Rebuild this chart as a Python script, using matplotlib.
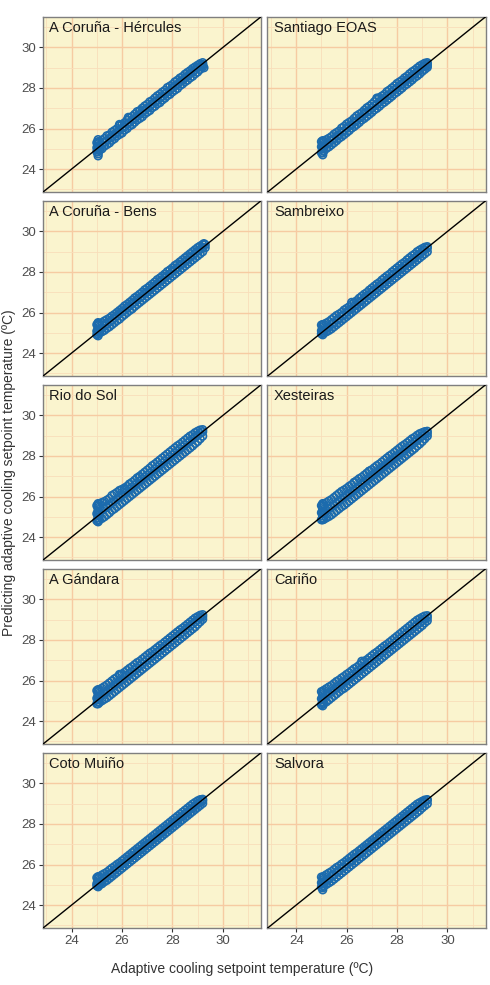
import matplotlib
matplotlib.use("Agg")
import matplotlib.pyplot as plt

plt.rcParams['font.family'] = ['Liberation Sans', 'DejaVu Sans']

stations = ["A Coruña - Hércules", "Santiago EOAS", "A Coruña - Bens", "Sambreixo",
            "Rio do Sol", "Xesteiras", "A Gándara", "Cariño", "Coto Muiño", "Salvora"]

ticks = [24, 26, 28, 30]
tick_labels = ["24", "26", "28", "30"]

# shared x positions of the band (adaptive setpoint, ºC)
band_x = [25.0, 25.1, 25.2, 25.3, 25.4, 25.5, 25.6, 25.7, 25.8, 25.9, 26.0, 26.1, 26.2, 26.3,
          26.4, 26.5, 26.6, 26.7, 26.8, 26.9, 27.0, 27.1, 27.2, 27.3, 27.4, 27.5, 27.6, 27.7,
          27.8, 27.9, 28.0, 28.1, 28.2, 28.3, 28.4, 28.5, 28.6, 28.7, 28.8, 28.9, 29.0, 29.1, 29.2]
stack_x = 25.05

upper = {
    "A Coruña - Hércules": [25.30, 25.35, 25.42, 25.50, 25.64, 25.68, 25.82, 25.90, 25.99, 26.13, 26.20, 26.28, 26.41, 26.52, 26.59, 26.70, 26.83, 26.88, 27.00, 27.11, 27.19, 27.32, 27.38, 27.50, 27.61, 27.69, 27.80, 27.88, 28.02, 28.09, 28.17, 28.30, 28.38, 28.49, 28.56, 28.68, 28.77, 28.85, 28.96, 29.04, 29.12, 29.20, 29.25],
    "Santiago EOAS": [25.35, 25.38, 25.45, 25.52, 25.60, 25.72, 25.80, 25.88, 26.02, 26.10, 26.22, 26.30, 26.38, 26.50, 26.62, 26.70, 26.78, 26.90, 27.02, 27.10, 27.20, 27.32, 27.45, 27.52, 27.60, 27.68, 27.82, 27.90, 28.00, 28.10, 28.22, 28.30, 28.38, 28.50, 28.58, 28.70, 28.80, 28.88, 28.98, 29.08, 29.15, 29.22, 29.25],
    "A Coruña - Bens": [25.40, 25.45, 25.50, 25.58, 25.65, 25.72, 25.82, 25.90, 26.00, 26.10, 26.20, 26.32, 26.40, 26.50, 26.60, 26.72, 26.80, 26.90, 27.00, 27.12, 27.20, 27.30, 27.40, 27.50, 27.62, 27.70, 27.80, 27.90, 28.02, 28.10, 28.20, 28.32, 28.40, 28.50, 28.60, 28.70, 28.80, 28.90, 29.00, 29.10, 29.20, 29.28, 29.35],
    "Sambreixo": [25.38, 25.42, 25.48, 25.55, 25.65, 25.75, 25.85, 25.92, 26.00, 26.12, 26.20, 26.28, 26.40, 26.50, 26.58, 26.70, 26.80, 26.90, 26.98, 27.10, 27.20, 27.30, 27.40, 27.48, 27.60, 27.70, 27.80, 27.88, 28.00, 28.10, 28.20, 28.30, 28.40, 28.48, 28.60, 28.70, 28.80, 28.88, 29.00, 29.08, 29.15, 29.22, 29.25],
    "Rio do Sol": [25.55, 25.62, 25.70, 25.75, 25.82, 25.90, 26.05, 26.12, 26.20, 26.30, 26.35, 26.42, 26.50, 26.62, 26.70, 26.80, 26.92, 27.00, 27.10, 27.20, 27.30, 27.40, 27.52, 27.60, 27.70, 27.80, 27.90, 28.00, 28.10, 28.20, 28.30, 28.40, 28.50, 28.58, 28.68, 28.78, 28.88, 28.98, 29.05, 29.15, 29.22, 29.28, 29.30],
    "Xesteiras": [25.55, 25.62, 25.70, 25.78, 25.85, 25.95, 26.05, 26.15, 26.25, 26.32, 26.40, 26.50, 26.58, 26.68, 26.78, 26.88, 26.95, 27.05, 27.15, 27.25, 27.32, 27.42, 27.52, 27.60, 27.70, 27.80, 27.90, 28.00, 28.08, 28.18, 28.28, 28.38, 28.48, 28.56, 28.65, 28.75, 28.85, 28.92, 29.02, 29.10, 29.15, 29.20, 29.22],
    "A Gándara": [25.50, 25.55, 25.62, 25.70, 25.78, 25.88, 25.98, 26.08, 26.15, 26.25, 26.32, 26.40, 26.50, 26.60, 26.68, 26.78, 26.88, 26.95, 27.05, 27.15, 27.25, 27.35, 27.42, 27.52, 27.62, 27.72, 27.80, 27.90, 28.00, 28.10, 28.20, 28.30, 28.40, 28.50, 28.58, 28.68, 28.78, 28.88, 28.98, 29.08, 29.15, 29.22, 29.25],
    "Cariño": [25.45, 25.52, 25.60, 25.68, 25.75, 25.85, 25.95, 26.02, 26.12, 26.20, 26.30, 26.38, 26.48, 26.58, 26.65, 26.75, 26.85, 26.95, 27.02, 27.12, 27.22, 27.32, 27.40, 27.50, 27.60, 27.70, 27.78, 27.88, 27.98, 28.08, 28.18, 28.28, 28.38, 28.48, 28.58, 28.68, 28.78, 28.88, 28.98, 29.05, 29.12, 29.18, 29.20],
    "Coto Muiño": [25.35, 25.40, 25.48, 25.55, 25.62, 25.72, 25.82, 25.90, 26.00, 26.08, 26.18, 26.28, 26.38, 26.48, 26.58, 26.68, 26.78, 26.88, 26.98, 27.08, 27.18, 27.28, 27.38, 27.48, 27.58, 27.68, 27.78, 27.88, 27.98, 28.08, 28.18, 28.28, 28.38, 28.48, 28.58, 28.68, 28.78, 28.88, 28.98, 29.06, 29.14, 29.20, 29.22],
    "Salvora": [25.38, 25.42, 25.50, 25.58, 25.65, 25.75, 25.85, 25.92, 26.02, 26.10, 26.20, 26.30, 26.40, 26.50, 26.58, 26.68, 26.78, 26.88, 26.98, 27.08, 27.18, 27.28, 27.38, 27.48, 27.58, 27.68, 27.78, 27.88, 27.98, 28.08, 28.18, 28.28, 28.38, 28.48, 28.58, 28.68, 28.78, 28.88, 28.98, 29.05, 29.12, 29.18, 29.20],
}

middle = {
    "A Coruña - Hércules": [25.05, 25.12, 25.18, 25.32, 25.40, 25.52, 25.58, 25.72, 25.80, 25.92, 26.02, 26.08, 26.22, 26.30, 26.42, 26.48, 26.62, 26.70, 26.78, 26.92, 27.00, 27.08, 27.22, 27.30, 27.38, 27.52, 27.58, 27.72, 27.80, 27.88, 28.02, 28.10, 28.18, 28.32, 28.38, 28.50, 28.58, 28.72, 28.78, 28.90, 29.00, 29.08, 29.15],
    "Santiago EOAS": [25.10, 25.08, 25.22, 25.28, 25.42, 25.48, 25.62, 25.68, 25.82, 25.88, 26.02, 26.12, 26.18, 26.32, 26.38, 26.52, 26.58, 26.72, 26.82, 26.88, 27.02, 27.12, 27.18, 27.32, 27.42, 27.48, 27.62, 27.68, 27.82, 27.92, 27.98, 28.12, 28.18, 28.32, 28.42, 28.48, 28.62, 28.68, 28.82, 28.88, 29.02, 29.10, 29.18],
    "A Coruña - Bens": [25.08, 25.15, 25.21, 25.35, 25.43, 25.55, 25.61, 25.75, 25.83, 25.95, 26.05, 26.11, 26.25, 26.33, 26.45, 26.51, 26.65, 26.73, 26.81, 26.95, 27.03, 27.11, 27.25, 27.33, 27.41, 27.55, 27.61, 27.75, 27.83, 27.91, 28.05, 28.13, 28.21, 28.35, 28.41, 28.53, 28.61, 28.75, 28.81, 28.93, 29.03, 29.11, 29.20],
    "Sambreixo": [25.10, 25.08, 25.22, 25.28, 25.42, 25.48, 25.62, 25.68, 25.82, 25.88, 26.02, 26.12, 26.18, 26.32, 26.38, 26.52, 26.58, 26.72, 26.82, 26.88, 27.02, 27.12, 27.18, 27.32, 27.42, 27.48, 27.62, 27.68, 27.82, 27.92, 27.98, 28.12, 28.18, 28.32, 28.42, 28.48, 28.62, 28.68, 28.82, 28.88, 29.02, 29.10, 29.18],
    "Rio do Sol": [25.15, 25.22, 25.32, 25.40, 25.48, 25.58, 25.70, 25.78, 25.88, 25.95, 26.08, 26.15, 26.25, 26.35, 26.45, 26.55, 26.65, 26.75, 26.85, 26.95, 27.05, 27.15, 27.25, 27.35, 27.45, 27.55, 27.65, 27.75, 27.85, 27.95, 28.05, 28.15, 28.25, 28.35, 28.45, 28.55, 28.65, 28.75, 28.82, 28.92, 29.02, 29.12, 29.20],
    "Xesteiras": [25.20, 25.25, 25.32, 25.40, 25.48, 25.58, 25.68, 25.78, 25.88, 25.95, 26.05, 26.15, 26.22, 26.32, 26.42, 26.52, 26.62, 26.72, 26.82, 26.92, 27.02, 27.10, 27.20, 27.30, 27.40, 27.50, 27.60, 27.70, 27.80, 27.90, 28.00, 28.08, 28.18, 28.28, 28.38, 28.48, 28.58, 28.68, 28.78, 28.88, 28.98, 29.05, 29.12],
    "A Gándara": [25.12, 25.20, 25.30, 25.38, 25.46, 25.56, 25.66, 25.76, 25.85, 25.95, 26.04, 26.14, 26.24, 26.34, 26.42, 26.52, 26.62, 26.72, 26.82, 26.92, 27.02, 27.12, 27.22, 27.30, 27.40, 27.50, 27.60, 27.70, 27.80, 27.90, 28.00, 28.10, 28.20, 28.30, 28.40, 28.50, 28.60, 28.70, 28.80, 28.90, 29.00, 29.10, 29.15],
    "Cariño": [25.10, 25.18, 25.28, 25.36, 25.45, 25.55, 25.65, 25.74, 25.84, 25.92, 26.02, 26.12, 26.22, 26.30, 26.40, 26.50, 26.60, 26.70, 26.78, 26.88, 26.98, 27.08, 27.18, 27.28, 27.38, 27.48, 27.58, 27.66, 27.76, 27.86, 27.96, 28.06, 28.16, 28.26, 28.36, 28.46, 28.56, 28.66, 28.76, 28.85, 28.95, 29.03, 29.10],
    "Coto Muiño": [25.05, 25.12, 25.18, 25.32, 25.40, 25.52, 25.58, 25.72, 25.80, 25.92, 26.02, 26.08, 26.22, 26.30, 26.42, 26.48, 26.62, 26.70, 26.78, 26.92, 27.00, 27.08, 27.22, 27.30, 27.38, 27.52, 27.58, 27.72, 27.80, 27.88, 28.02, 28.10, 28.18, 28.32, 28.38, 28.50, 28.58, 28.72, 28.78, 28.90, 29.00, 29.08, 29.15],
    "Salvora": [25.10, 25.08, 25.22, 25.28, 25.42, 25.48, 25.62, 25.68, 25.82, 25.88, 26.02, 26.12, 26.18, 26.32, 26.38, 26.52, 26.58, 26.72, 26.82, 26.88, 27.02, 27.12, 27.18, 27.32, 27.42, 27.48, 27.62, 27.68, 27.82, 27.92, 27.98, 28.12, 28.18, 28.32, 28.42, 28.48, 28.62, 28.68, 28.82, 28.88, 29.02, 29.10, 29.18],
}

lower = {
    "A Coruña - Hércules": [24.85, 24.92, 25.00, 25.13, 25.21, 25.29, 25.42, 25.50, 25.63, 25.71, 25.78, 25.92, 26.00, 26.13, 26.19, 26.31, 26.42, 26.50, 26.58, 26.72, 26.81, 26.89, 27.03, 27.10, 27.22, 27.28, 27.41, 27.50, 27.62, 27.69, 27.81, 27.90, 27.98, 28.12, 28.20, 28.31, 28.39, 28.50, 28.58, 28.70, 28.79, 28.92, 29.05],
    "Santiago EOAS": [24.80, 24.90, 25.02, 25.10, 25.20, 25.30, 25.40, 25.52, 25.60, 25.70, 25.80, 25.90, 26.02, 26.10, 26.20, 26.30, 26.42, 26.50, 26.60, 26.70, 26.80, 26.92, 27.00, 27.10, 27.22, 27.30, 27.40, 27.50, 27.60, 27.72, 27.80, 27.90, 28.00, 28.12, 28.20, 28.30, 28.40, 28.52, 28.60, 28.70, 28.82, 28.92, 29.02],
    "A Coruña - Bens": [24.90, 25.00, 25.05, 25.12, 25.22, 25.30, 25.40, 25.50, 25.60, 25.68, 25.80, 25.90, 26.00, 26.10, 26.18, 26.30, 26.40, 26.50, 26.60, 26.70, 26.80, 26.90, 27.00, 27.10, 27.20, 27.30, 27.40, 27.50, 27.60, 27.70, 27.80, 27.90, 28.00, 28.10, 28.20, 28.30, 28.40, 28.50, 28.60, 28.70, 28.80, 28.90, 29.00],
    "Sambreixo": [24.95, 25.00, 25.05, 25.12, 25.20, 25.30, 25.40, 25.50, 25.60, 25.70, 25.80, 25.90, 26.00, 26.10, 26.20, 26.30, 26.40, 26.50, 26.60, 26.70, 26.80, 26.90, 27.00, 27.10, 27.20, 27.30, 27.40, 27.50, 27.60, 27.70, 27.80, 27.90, 28.00, 28.10, 28.20, 28.30, 28.40, 28.50, 28.60, 28.70, 28.80, 28.90, 29.00],
    "Rio do Sol": [24.80, 24.85, 24.92, 25.00, 25.10, 25.20, 25.32, 25.40, 25.50, 25.60, 25.70, 25.80, 25.90, 26.00, 26.10, 26.20, 26.30, 26.40, 26.50, 26.60, 26.70, 26.80, 26.90, 27.00, 27.10, 27.20, 27.30, 27.40, 27.50, 27.60, 27.70, 27.80, 27.90, 28.00, 28.10, 28.20, 28.30, 28.40, 28.50, 28.62, 28.72, 28.85, 28.98],
    "Xesteiras": [24.85, 24.88, 24.95, 25.02, 25.10, 25.20, 25.30, 25.40, 25.50, 25.58, 25.68, 25.78, 25.88, 25.98, 26.08, 26.18, 26.28, 26.38, 26.48, 26.58, 26.68, 26.78, 26.88, 26.98, 27.08, 27.18, 27.28, 27.38, 27.48, 27.58, 27.68, 27.78, 27.88, 27.98, 28.08, 28.18, 28.28, 28.38, 28.50, 28.60, 28.72, 28.85, 28.98],
    "A Gándara": [24.85, 24.92, 25.00, 25.08, 25.15, 25.25, 25.35, 25.45, 25.55, 25.65, 25.75, 25.85, 25.95, 26.05, 26.15, 26.25, 26.35, 26.45, 26.55, 26.65, 26.75, 26.85, 26.95, 27.05, 27.15, 27.25, 27.35, 27.45, 27.55, 27.65, 27.75, 27.85, 27.95, 28.05, 28.15, 28.25, 28.35, 28.45, 28.55, 28.65, 28.78, 28.90, 29.02],
    "Cariño": [24.80, 24.88, 24.95, 25.05, 25.15, 25.25, 25.35, 25.45, 25.55, 25.62, 25.72, 25.82, 25.92, 26.02, 26.12, 26.22, 26.32, 26.42, 26.52, 26.62, 26.72, 26.82, 26.92, 27.02, 27.12, 27.22, 27.32, 27.42, 27.52, 27.62, 27.72, 27.82, 27.92, 28.02, 28.12, 28.22, 28.32, 28.42, 28.52, 28.62, 28.72, 28.85, 28.95],
    "Coto Muiño": [24.95, 25.00, 25.05, 25.15, 25.22, 25.32, 25.42, 25.52, 25.62, 25.72, 25.82, 25.92, 26.02, 26.12, 26.22, 26.32, 26.42, 26.52, 26.62, 26.72, 26.82, 26.92, 27.02, 27.12, 27.22, 27.32, 27.42, 27.52, 27.62, 27.72, 27.82, 27.92, 28.02, 28.12, 28.22, 28.32, 28.42, 28.52, 28.62, 28.72, 28.82, 28.92, 29.02],
    "Salvora": [24.88, 24.95, 25.02, 25.10, 25.18, 25.28, 25.38, 25.48, 25.58, 25.68, 25.78, 25.88, 25.98, 26.08, 26.18, 26.28, 26.38, 26.48, 26.58, 26.68, 26.78, 26.88, 26.98, 27.08, 27.18, 27.28, 27.38, 27.48, 27.58, 27.68, 27.78, 27.88, 27.98, 28.08, 28.18, 28.28, 28.38, 28.48, 28.58, 28.68, 28.80, 28.90, 29.00],
}

# vertical stack of points at the lower limit of the adaptive setpoint
stack_y = {
    "A Coruña - Hércules": [24.65, 24.75, 24.85, 24.95, 25.05, 25.15, 25.25, 25.35, 25.45],
    "Santiago EOAS": [24.70, 24.80, 24.90, 25.00, 25.10, 25.20, 25.30, 25.40],
    "A Coruña - Bens": [24.85, 24.95, 25.05, 25.15, 25.25, 25.35, 25.45, 25.50],
    "Sambreixo": [24.90, 25.00, 25.10, 25.20, 25.30, 25.40],
    "Rio do Sol": [24.75, 24.85, 24.95, 25.05, 25.15, 25.25, 25.35, 25.45, 25.55, 25.65],
    "Xesteiras": [24.85, 24.95, 25.05, 25.15, 25.25, 25.35, 25.45, 25.55, 25.65],
    "A Gándara": [24.85, 24.95, 25.05, 25.15, 25.25, 25.35, 25.45, 25.55],
    "Cariño": [24.75, 24.85, 24.95, 25.05, 25.15, 25.25, 25.35, 25.45],
    "Coto Muiño": [24.90, 25.00, 25.10, 25.20, 25.30, 25.40],
    "Salvora": [24.75, 24.85, 24.95, 25.05, 25.15, 25.25, 25.35],
}

# isolated points off the band
extra_x = {
    "A Coruña - Hércules": [25.9, 26.25, 26.7, 29.25, 29.2],
    "Santiago EOAS": [27.2, 29.2],
    "A Coruña - Bens": [29.3, 29.3, 29.25],
    "Sambreixo": [26.2],
    "Rio do Sol": [26.1, 26.3, 26.7],
    "Xesteiras": [26.3, 26.9],
    "A Gándara": [25.9],
    "Cariño": [26.6],
    "Coto Muiño": [],
    "Salvora": [],
}
extra_y = {
    "A Coruña - Hércules": [26.2, 26.55, 26.85, 29.0, 29.15],
    "Santiago EOAS": [27.5, 29.1],
    "A Coruña - Bens": [29.35, 29.2, 29.4],
    "Sambreixo": [26.5],
    "Rio do Sol": [26.35, 26.6, 26.95],
    "Xesteiras": [26.7, 27.25],
    "A Gándara": [26.3],
    "Cariño": [26.95],
    "Coto Muiño": [],
    "Salvora": [],
}

BG = "#FAF4CE"
MAJOR = "#F6CBA2"
MINOR = "#F8DEBA"
BLUE = "#1C6BAD"
LIM = (22.85, 31.52)

W, H = 490, 985
fig = plt.figure(figsize=(W / 100, H / 100), dpi=100)

col_left = [42.7, 267.3]
pw = 218.4
row_top0 = 16.7
pitch = 184.0
ph = 175.6

for i, name in enumerate(stations):
    r, c = divmod(i, 2)
    left = col_left[c] / W
    bottom = 1 - (row_top0 + pitch * r + ph) / H
    ax = fig.add_axes([left, bottom, pw / W, ph / H])
    ax.set_facecolor(BG)
    ax.set_xlim(*LIM)
    ax.set_ylim(*LIM)
    ax.set_xticks(ticks)
    ax.set_yticks(ticks)
    ax.set_xticks([23, 25, 27, 29, 31], minor=True)
    ax.set_yticks([23, 25, 27, 29, 31], minor=True)
    ax.grid(which="major", color=MAJOR, lw=1.0)
    ax.grid(which="minor", color=MINOR, lw=0.6)
    ax.set_axisbelow(True)
    for s in ax.spines.values():
        s.set_color("#7f7f7f")
        s.set_linewidth(1.0)
    ax.tick_params(which="minor", length=0)
    ax.tick_params(which="major", length=3, width=0.8, color="#333333",
                   labelsize=9.5, labelcolor="#4d4d4d", pad=2)
    if c == 0:
        ax.set_yticklabels(tick_labels)
    else:
        ax.tick_params(axis="y", which="major", length=0, labelleft=False)
    if r == 4:
        ax.set_xticklabels(tick_labels)
    else:
        ax.tick_params(axis="x", which="major", length=0, labelbottom=False)

    kw = dict(s=30, facecolors="none", edgecolors=BLUE, linewidths=1.2, zorder=3)
    ax.scatter(band_x, upper[name], **kw)
    ax.scatter(band_x, lower[name], **kw)
    ax.scatter(band_x, middle[name], **kw)
    ax.scatter([stack_x] * len(stack_y[name]), stack_y[name], **kw)
    if extra_x[name]:
        ax.scatter(extra_x[name], extra_y[name], **kw)
    ax.axline((24, 24), slope=1, color="black", lw=1.0, zorder=4)
    ax.text(0.03, 0.975, name, transform=ax.transAxes, ha="left", va="top",
            fontsize=10.5, color="#1a1a1a", zorder=5)

fig.text(242 / W, 1 - 969 / H, "Adaptive cooling setpoint temperature (ºC)",
         ha="center", va="center", fontsize=10, color="#333333")
fig.text(9 / W, 1 - 472.5 / H, "Predicting adaptive cooling setpoint temperature (ºC)",
         ha="center", va="center", rotation=90, fontsize=10, color="#333333")

fig.savefig("out.png", dpi=100, facecolor="white")
